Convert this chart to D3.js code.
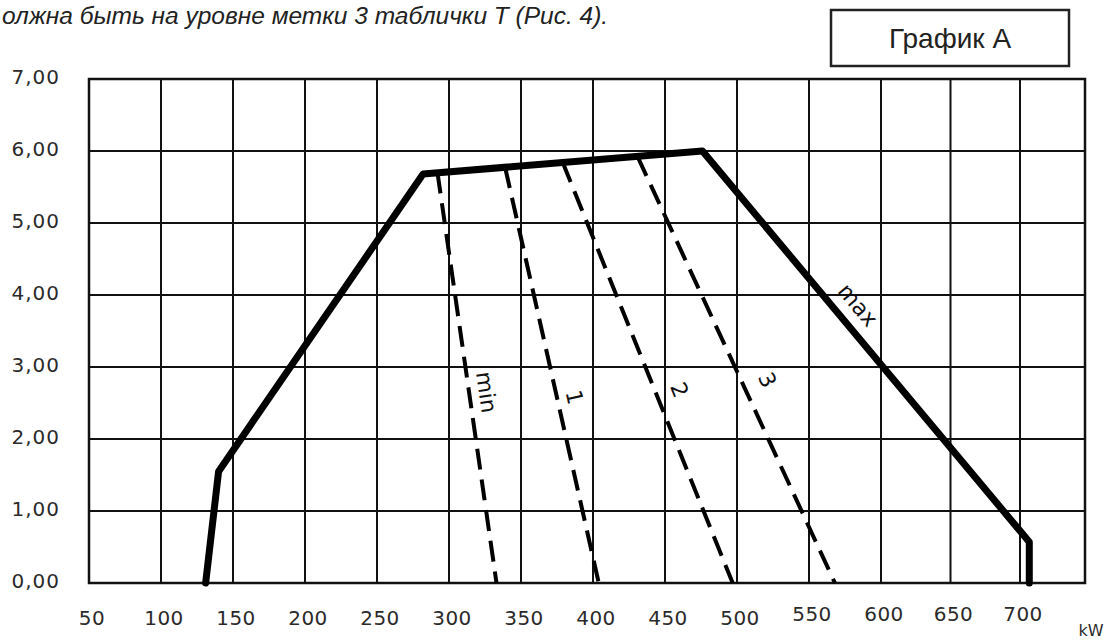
<!DOCTYPE html>
<html>
<head>
<meta charset="utf-8">
<script src="https://cdn.jsdelivr.net/npm/d3@7"></script>
<style>
  html, body { margin: 0; padding: 0; background: #fff; }
  svg { display: block; }
</style>
</head>
<body>
<svg id="chart" width="1105" height="642"></svg>
<script>
// ---- data ----
const xTicks = [50, 100, 150, 200, 250, 300, 350, 400, 450, 500, 550, 600, 650, 700];
const yTicks = [0, 1, 2, 3, 4, 5, 6, 7];
const xGrid = [100, 150, 200, 250, 300, 350, 400, 450, 500, 550, 600, 650, 700];
const maxCurve = [[131, 0], [140, 1.55], [282, 5.68], [476, 6.0], [706, 0.57], [706, 0]];
const minLine = [[292, 5.70], [333, 0]];
const line1 = [[339, 5.77], [404, 0]];
const line2 = [[379, 5.84], [497, 0]];
const line3 = [[431, 5.92], [568, 0]];
const dashedLines = [minLine, line1, line2, line3];
const curveLabels = ["min", "1", "2", "3"];
const curveLabelPos = [[326, 2.65], [387, 2.58], [460, 2.68], [521, 2.82]];
const maxLabel = "max";
const maxLabelPos = [584, 3.86];
const title = "олжна быть на уровне метки 3 таблички T (Рис. 4).";
const boxLabel = "График A";
const xUnit = "kW";

// ---- scales ----
const x = d3.scaleLinear().domain([50, 600, 700, 742]).range([89, 881, 1020, 1085]);
const y = d3.scaleLinear().domain([0, 7]).range([583, 79]);

const svg = d3.select("#chart");
const ink = "#111";
const txt = "#2b2b2b";

// title (cut-off italic sentence)
svg.append("text")
  .attr("x", 2).attr("y", 24)
  .attr("font-family", "Liberation Sans, Arial, sans-serif")
  .attr("font-style", "italic")
  .attr("font-size", 24.5)
  .attr("fill", "#222")
  .text(title);

// box label
svg.append("rect")
  .attr("x", 831).attr("y", 10).attr("width", 238).attr("height", 56)
  .attr("fill", "none").attr("stroke", "#222").attr("stroke-width", 2.5);
svg.append("text")
  .attr("x", 950).attr("y", 48)
  .attr("text-anchor", "middle")
  .attr("font-family", "Liberation Sans, Arial, sans-serif")
  .attr("font-size", 28)
  .attr("fill", "#222")
  .text(boxLabel);

// grid
const g = svg.append("g");
g.selectAll("line.v").data(xGrid).join("line")
  .attr("x1", d => x(d)).attr("x2", d => x(d))
  .attr("y1", y(0)).attr("y2", y(7))
  .attr("stroke", ink).attr("stroke-width", 2);
g.selectAll("line.h").data(yTicks.slice(1, -1)).join("line")
  .attr("x1", x(50)).attr("x2", x(742))
  .attr("y1", d => y(d)).attr("y2", d => y(d))
  .attr("stroke", ink).attr("stroke-width", 2);
g.append("rect")
  .attr("x", x(50)).attr("y", y(7))
  .attr("width", x(742) - x(50)).attr("height", y(0) - y(7))
  .attr("fill", "none").attr("stroke", ink).attr("stroke-width", 2.5);

// y tick labels
svg.selectAll("text.yl").data(yTicks).join("text")
  .attr("x", 60).attr("y", d => y(d) - 2)
  .attr("text-anchor", "end")
  .attr("dominant-baseline", "central")
  .attr("font-family", "DejaVu Sans, sans-serif")
  .attr("font-size", 20)
  .attr("letter-spacing", 1)
  .attr("fill", txt)
  .text(d => d3.format(".2f")(d).replace(".", ","));

// x tick labels
svg.selectAll("text.xl").data(xTicks).join("text")
  .attr("x", d => x(d) + 3)
  .attr("y", d => d >= 550 ? 621 : 625)
  .attr("text-anchor", "middle")
  .attr("font-family", "DejaVu Sans, sans-serif")
  .attr("font-size", 20)
  .attr("letter-spacing", 0.5)
  .attr("fill", txt)
  .text(d => d);

svg.append("text")
  .attr("x", 1091).attr("y", 636)
  .attr("text-anchor", "middle")
  .attr("font-family", "DejaVu Sans, sans-serif")
  .attr("font-size", 16)
  .attr("fill", txt)
  .text(xUnit);

// lines
const lineGen = d3.line().x(d => x(d[0])).y(d => y(d[1]));

svg.selectAll("path.dash").data(dashedLines).join("path")
  .attr("d", lineGen)
  .attr("fill", "none").attr("stroke", "#000")
  .attr("stroke-width", 4)
  .attr("stroke-dasharray", "21,10");

svg.append("path")
  .datum(maxCurve)
  .attr("d", lineGen)
  .attr("fill", "none").attr("stroke", "#000")
  .attr("stroke-width", 7)
  .attr("stroke-linejoin", "round")
  .attr("stroke-linecap", "round");

// labels along lines (rotation taken from line direction)
function angleOf(seg) {
  const dx = x(seg[1][0]) - x(seg[0][0]);
  const dy = y(seg[1][1]) - y(seg[0][1]);
  return Math.atan2(dy, dx) * 180 / Math.PI;
}
const lblFont = "DejaVu Sans, sans-serif";
dashedLines.forEach((seg, i) => {
  const px = x(curveLabelPos[i][0]), py = y(curveLabelPos[i][1]);
  svg.append("text")
    .attr("transform", `translate(${px},${py}) rotate(${angleOf(seg)})`)
    .attr("text-anchor", "middle")
    .attr("dominant-baseline", "central")
    .attr("font-family", lblFont)
    .attr("font-size", 22)
    .attr("fill", "#111")
    .text(curveLabels[i]);
});
{
  const seg = [maxCurve[3], maxCurve[4]];
  const px = x(maxLabelPos[0]), py = y(maxLabelPos[1]);
  svg.append("text")
    .attr("transform", `translate(${px},${py}) rotate(${angleOf(seg)})`)
    .attr("text-anchor", "middle")
    .attr("dominant-baseline", "central")
    .attr("font-family", lblFont)
    .attr("font-size", 22)
    .attr("fill", "#111")
    .text(maxLabel);
}
</script>
</body>
</html>
